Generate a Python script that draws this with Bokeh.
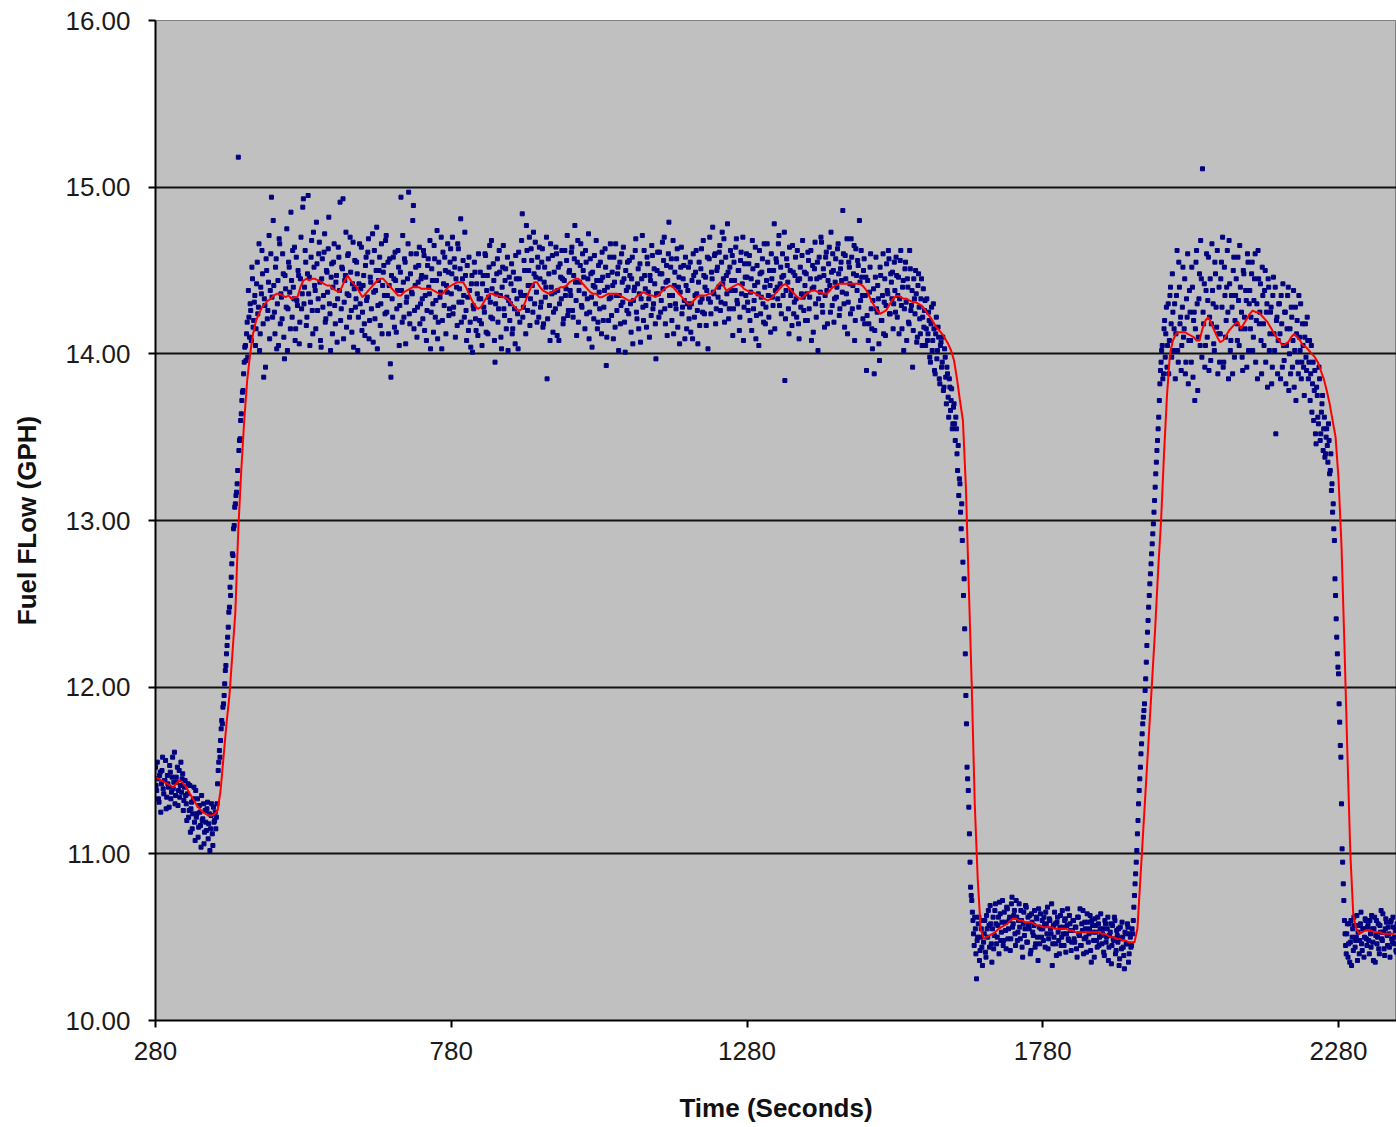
from bokeh.plotting import figure
from bokeh.models import FixedTicker, NumeralTickFormatter, Range1d
from bokeh.embed import file_html
from bokeh.resources import INLINE

# ---- data -------------------------------------------------------------
# Fuel-flow samples (GPH) at even seconds, starting at t = 280 s
even_start = 280
flow_even = [
    11.52, 11.38, 11.45, 11.31, 11.49, 11.42, 11.58, 11.36, 11.44, 11.27, 11.47, 11.40, 11.53, 11.33, 11.46, 11.39, 11.61, 11.35, 11.43, 11.29, 11.50, 11.41, 11.37, 11.48, 11.32,
    11.44, 11.30, 11.36, 11.22, 11.41, 11.27, 11.15, 11.33, 11.19, 11.38, 11.24, 11.10, 11.29, 11.17, 11.35, 11.21, 11.06, 11.26, 11.14, 11.31, 11.18, 11.02, 11.23, 11.12, 11.28,
    11.20, 11.15, 11.30, 11.50, 11.62, 11.68, 11.80, 11.88, 11.95, 12.10, 12.20, 12.30, 12.45, 12.60, 12.66, 12.80, 12.95, 13.08, 13.15, 13.22, 15.18, 13.48, 13.60, 13.72, 13.78,
    13.95, 14.05, 14.12, 13.98, 14.22, 14.30, 14.08, 14.45, 14.20, 14.35, 14.15, 14.55, 14.28, 14.02, 14.40, 14.62, 14.18, 14.33, 13.92, 14.50, 14.26, 14.71, 14.38, 14.94, 14.22,
    14.41, 14.12, 14.57, 14.30, 14.05, 14.66, 14.36, 14.21, 14.48, 13.97, 14.39, 14.75, 14.27, 14.52, 14.15, 14.44, 14.62, 14.33, 14.08, 14.58, 14.29, 14.47, 14.19, 14.70, 14.36,
    14.93, 14.40, 14.55, 14.22, 14.95, 14.46, 14.31, 14.68, 14.12, 14.52, 14.38, 14.79, 14.26, 14.60, 14.43, 14.04, 14.57, 14.35, 14.72, 14.21, 14.49, 14.63, 14.30, 14.02, 14.54,
    14.40, 14.66, 14.18, 14.47, 14.33, 14.58, 14.91, 14.27, 14.51, 14.09, 14.44, 14.73, 14.36, 14.60, 14.22, 14.49, 14.13, 14.67, 14.39, 14.28, 14.55, 14.02, 14.42, 14.30, 14.64,
    14.25, 14.47, 14.11, 14.58, 14.34, 14.69, 14.20, 14.43, 14.55, 14.07, 14.62, 14.38, 14.76, 14.29, 14.50, 14.17, 14.66, 14.41, 14.53, 14.24, 14.71, 14.35, 14.12, 14.57, 13.86,
    14.33, 14.58, 14.16, 14.44, 14.27, 14.62, 14.05, 14.49, 14.38, 14.71, 14.22, 14.55, 14.31, 14.45, 14.97, 14.18, 14.60, 14.36, 14.89, 14.26, 14.52, 14.10, 14.43, 14.64, 14.30,
    14.47, 14.21, 14.59, 14.35, 14.08, 14.53, 14.40, 14.68, 14.25, 14.44, 14.13, 14.57, 14.32, 14.74, 14.19, 14.48, 14.37, 14.03, 14.61, 14.29, 14.50, 14.41, 14.66, 14.23, 14.55,
    14.36, 14.70, 14.28, 14.52, 14.45, 14.17, 14.63, 14.39, 14.81, 14.31, 14.56, 14.22, 14.47, 14.08, 14.34, 14.58, 14.19, 14.42, 14.01, 14.27, 14.49, 14.14, 14.36, 14.60, 14.20,
    14.33, 14.05, 14.47, 14.25, 14.59, 14.38, 14.12, 14.52, 14.31, 14.68, 14.21, 14.44, 13.95, 14.36, 14.57, 14.27, 14.49, 14.10, 14.40, 14.65, 14.23, 14.51, 14.34, 14.02, 14.46,
    14.30, 14.54, 14.15, 14.38, 14.06, 14.45, 14.24, 14.61, 14.19, 14.35, 14.84, 14.28, 14.50, 14.12, 14.62, 14.41, 14.70, 14.33, 14.56, 14.25, 14.48, 14.67, 14.37, 14.58, 14.22,
    14.45, 14.31, 14.63, 14.18, 14.52, 14.40, 13.85, 14.57, 14.29, 14.66, 14.36, 14.13, 14.49, 14.27, 14.60, 14.38, 14.08, 14.54, 14.33, 14.45, 14.21, 14.62, 14.39, 14.71, 14.26,
    14.50, 14.35, 14.64, 14.22, 14.57, 14.43, 14.11, 14.68, 14.38, 14.53, 14.29, 14.60, 14.46, 14.15, 14.55, 14.33, 14.72, 14.25, 14.48, 14.04, 14.41, 14.59, 14.30, 14.44, 14.19,
    14.37, 14.55, 14.12, 14.46, 14.28, 14.63, 13.93, 14.40, 14.20, 14.58, 14.34, 14.49, 14.09, 14.43, 14.66, 14.26, 14.52, 14.35, 14.18, 14.60, 14.31, 14.45, 14.01, 14.38, 14.55,
    14.24, 14.47, 14.13, 14.58, 14.32, 14.40, 14.69, 14.21, 14.51, 14.36, 14.07, 14.45, 14.28, 14.62, 14.39, 14.16, 14.54, 14.33, 14.47, 14.23, 14.59, 14.30, 14.42, 13.97, 14.50,
    14.36, 14.61, 14.25, 14.48, 14.39, 14.70, 14.18, 14.53, 14.44, 14.79, 14.29, 14.57, 14.35, 14.12, 14.49, 14.27, 14.63, 14.40, 14.06, 14.52, 14.24, 14.45, 14.32, 14.58, 14.15,
    14.38, 14.21, 14.55, 14.30, 14.09, 14.47, 14.35, 14.62, 14.26, 14.43, 14.17, 14.51, 14.33, 14.68, 14.24, 14.46, 14.38, 14.03, 14.57, 14.31, 14.49, 14.76, 14.36, 14.60, 14.27,
    14.52, 14.40, 14.65, 14.31, 14.73, 14.45, 14.19, 14.58, 14.36, 14.49, 14.27, 14.62, 14.44, 14.11, 14.55, 14.38, 14.69, 14.30, 14.50, 14.22, 14.61, 14.42, 14.08, 14.54, 14.35,
    14.46, 14.26, 14.59, 14.37, 14.14, 14.51, 14.32, 14.64, 14.23, 14.43, 14.05, 14.48, 14.34, 14.57, 14.19, 14.40, 14.28, 14.66, 14.35, 14.50, 14.13, 14.45, 14.29, 14.78, 14.38,
    14.55, 14.33, 14.71, 14.42, 14.24, 14.60, 14.47, 13.84, 14.38, 14.53, 14.27, 14.64, 14.35, 14.17, 14.49, 14.31, 14.58, 14.22, 14.44, 14.09, 14.52, 14.36, 14.68, 14.26, 14.41,
    14.48, 14.20, 14.56, 14.34, 14.62, 14.39, 14.13, 14.51, 14.30, 14.45, 14.02, 14.58, 14.37, 14.67, 14.25, 14.47, 14.35, 14.61, 14.18, 14.54, 14.41, 14.73, 14.29, 14.50, 14.33,
    14.57, 14.40, 14.66, 14.23, 14.51, 14.44, 14.86, 14.30, 14.59, 14.36, 14.12, 14.55, 14.42, 14.69, 14.27, 14.48, 14.08, 14.63, 14.38, 14.53, 14.80, 14.32, 14.46, 14.21, 14.57,
    14.35, 13.90, 14.44, 14.18, 14.52, 14.27, 14.03, 14.39, 14.14, 14.58, 14.25, 14.33, 13.96, 14.47, 14.20, 14.60, 14.31, 14.11, 14.54, 14.36, 14.57, 14.24, 14.43, 14.49, 14.30,
    14.38, 14.58, 14.22, 14.46, 14.33, 14.62, 14.15, 14.44, 14.27, 14.55, 14.08, 14.40, 14.18, 14.51, 14.29, 13.92, 14.45, 14.24, 14.36, 14.10, 14.48, 14.21, 14.33, 14.05, 14.39,
    14.26, 14.05, 14.33, 14.12, 14.20, 13.95, 14.28, 14.08, 14.15, 13.88, 14.22, 14.02, 14.10, 13.82, 14.07, 13.95, 13.78, 14.03, 13.86, 13.92, 13.74, 13.85, 13.66, 13.79, 13.58,
    13.70, 13.48, 13.55, 13.30, 13.15, 13.22, 12.95, 12.88, 12.55, 12.35, 11.95, 11.52, 11.38, 11.12, 10.80, 10.72, 10.60, 10.45, 10.55, 10.25, 10.50, 10.62, 10.42, 10.55, 10.33,
    10.47, 10.60, 10.38, 10.55, 10.66, 10.44, 10.58, 10.35, 10.62, 10.51, 10.70, 10.46, 10.57, 10.40, 10.64, 10.53, 10.72, 10.48, 10.59, 10.43, 10.67, 10.55, 10.62, 10.49, 10.74,
    10.58, 10.66, 10.45, 10.62, 10.53, 10.70, 10.49, 10.60, 10.38, 10.65, 10.55, 10.68, 10.47, 10.57, 10.63, 10.42, 10.59, 10.51, 10.66, 10.46, 10.61, 10.36, 10.56, 10.64, 10.50,
    10.55, 10.62, 10.44, 10.58, 10.68, 10.49, 10.60, 10.52, 10.33, 10.57, 10.65, 10.46, 10.59, 10.53, 10.40, 10.63, 10.50, 10.56, 10.45, 10.61, 10.52, 10.67, 10.48, 10.58, 10.42,
    10.54, 10.60, 10.47, 10.56, 10.38, 10.62, 10.51, 10.45, 10.58, 10.66, 10.49, 10.55, 10.41, 10.59, 10.52, 10.63, 10.35, 10.57, 10.48, 10.61, 10.53, 10.44, 10.58, 10.50, 10.64,
    10.46, 10.55, 10.39, 10.58, 10.50, 10.62, 10.44, 10.53, 10.34, 10.57, 10.48, 10.60, 10.42, 10.51, 10.55, 10.37, 10.49, 10.59, 10.44, 10.31, 10.52, 10.46, 10.56, 10.40, 10.50,
    10.45, 10.52, 10.68, 10.82, 10.95, 11.12, 11.30, 11.45, 11.60, 11.72, 11.82, 11.90, 12.05, 12.25, 12.40, 12.55, 12.68, 12.80, 12.92, 13.05, 13.20, 13.35, 13.48, 13.62, 13.82,
    13.95, 14.05, 13.88, 14.20, 14.12, 13.92, 14.30, 14.08, 14.40, 13.98, 14.25, 14.15, 13.85, 14.35, 14.02, 14.55, 14.18, 13.90, 14.28, 14.10, 14.45, 13.95, 14.22, 13.82, 14.38,
    14.08, 14.52, 13.86, 14.25, 14.15, 14.62, 13.78, 14.33, 14.05, 14.45, 15.11, 14.18, 13.92, 14.38, 14.10, 14.58, 14.22, 13.96, 14.66, 14.30, 14.02, 14.48, 14.16, 13.88, 14.40,
    14.12, 14.55, 14.70, 13.95, 14.35, 14.20, 14.62, 13.85, 14.42, 14.08, 14.28, 14.50, 13.98, 14.35, 14.18, 14.58, 14.05, 14.40, 14.25, 13.90, 14.48, 14.15, 14.32, 14.60, 14.02,
    14.38, 14.22, 14.55, 14.10, 14.45, 13.95, 14.30, 14.62, 14.18, 14.42, 13.88, 14.35, 14.05, 14.50, 14.25, 13.80, 14.40, 14.12, 14.28, 13.92, 14.46, 14.02, 13.52, 14.22, 14.08,
    14.30, 13.85, 14.18, 14.42, 13.96, 14.25, 14.05, 14.35, 13.78, 14.15, 14.28, 13.92, 14.38, 14.02, 13.72, 14.20, 13.88, 14.10, 14.30, 13.95, 14.05, 13.75, 14.18, 13.90, 14.08,
    13.95, 13.72, 14.05, 13.82, 13.60, 13.90, 13.46, 13.75, 13.58, 13.85, 13.52, 13.70, 13.42, 13.62, 13.40, 13.55, 13.35, 13.48, 13.30, 13.18, 13.05, 12.95, 12.65, 12.41, 12.20,
    12.08, 11.79, 11.58, 11.03, 10.82, 10.60, 10.45, 10.52, 10.38, 10.58, 10.47, 10.33, 10.55, 10.62, 10.44, 10.50, 10.36, 10.57, 10.48, 10.65, 10.42, 10.55, 10.50, 10.60, 10.45,
    10.58, 10.40, 10.52, 10.63, 10.47, 10.55, 10.35, 10.60, 10.50, 10.43, 10.57, 10.66, 10.48, 10.53, 10.39, 10.61, 10.51, 10.56, 10.44, 10.59, 10.49, 10.62, 10.46, 10.54, 10.41,
]

# Fuel-flow samples (GPH) at odd seconds, starting at t = 281 s
odd_start = 281
flow_odd = [
    11.41, 11.55, 11.33, 11.47, 11.25, 11.50, 11.39, 11.44, 11.56, 11.34, 11.42, 11.28, 11.49, 11.37, 11.58, 11.43, 11.30, 11.46, 11.52, 11.38, 11.34, 11.55, 11.45, 11.26, 11.40,
    11.35, 11.20, 11.42, 11.26, 11.13, 11.31, 11.24, 11.40, 11.08, 11.22, 11.33, 11.16, 11.25, 11.04, 11.20, 11.30, 11.13, 11.19, 11.27, 11.09, 11.24, 11.15, 11.30, 11.05, 11.19,
    11.25, 11.22, 11.42, 11.55, 11.58, 11.75, 11.78, 11.90, 12.02, 12.13, 12.25, 12.36, 12.48, 12.55, 12.74, 12.79, 12.97, 13.10, 13.17, 13.30, 13.42, 13.49, 13.64, 13.77, 13.88,
    14.04, 13.96, 14.19, 14.38, 14.10, 14.26, 14.52, 14.16, 14.31, 14.05, 14.42, 14.24, 14.66, 14.12, 14.36, 14.48, 13.86, 14.29, 14.57, 14.21, 14.43, 14.09, 14.60, 14.34, 14.80,
    14.25, 14.52, 14.03, 14.44, 14.69, 14.18, 14.34, 14.60, 14.10, 14.47, 14.28, 14.02, 14.55, 14.37, 14.85, 14.22, 14.40, 14.64, 14.15, 14.32, 14.50, 14.06, 14.45, 14.27, 14.88,
    14.30, 14.62, 14.17, 14.48, 14.36, 14.05, 14.58, 14.26, 14.73, 14.41, 14.15, 14.54, 14.33, 14.67, 14.08, 14.45, 14.28, 14.61, 14.19, 14.50, 14.37, 14.82, 14.24, 14.46, 14.12,
    14.55, 14.29, 14.43, 14.07, 14.64, 14.38, 14.20, 14.52, 14.93, 14.31, 14.47, 14.16, 14.59, 14.35, 14.70, 14.26, 14.42, 14.04, 14.56, 14.33, 14.48, 14.22, 14.66, 14.39, 14.14,
    14.41, 14.18, 14.53, 14.32, 14.61, 14.09, 14.46, 14.27, 14.72, 14.37, 14.21, 14.50, 14.03, 14.44, 14.58, 14.30, 14.12, 14.49, 14.35, 14.68, 14.25, 14.55, 14.41, 13.94, 14.47,
    14.22, 14.45, 14.61, 14.13, 14.38, 14.52, 14.29, 14.94, 14.19, 14.43, 14.57, 14.06, 14.34, 14.66, 14.24, 14.48, 14.37, 14.80, 14.15, 14.41, 14.60, 14.28, 14.53, 14.18, 14.45,
    14.33, 14.62, 14.14, 14.46, 14.26, 14.57, 14.36, 14.03, 14.51, 14.30, 14.65, 14.22, 14.44, 14.09, 14.55, 14.34, 14.70, 14.20, 14.42, 14.58, 14.12, 14.37, 14.49, 14.27, 14.63,
    14.48, 14.24, 14.57, 14.10, 14.40, 14.66, 14.31, 14.51, 14.19, 14.45, 14.35, 14.73, 14.26, 14.53, 14.14, 14.38, 14.04, 14.47, 14.29, 14.55, 14.21, 14.42, 14.11, 14.33, 14.49,
    14.18, 14.42, 14.28, 14.60, 14.13, 14.47, 14.34, 14.65, 14.22, 14.39, 14.54, 14.08, 14.30, 14.48, 14.19, 14.62, 14.35, 14.03, 14.52, 14.27, 14.44, 14.15, 14.58, 14.32, 14.20,
    14.42, 14.12, 14.49, 14.27, 14.59, 14.33, 14.03, 14.45, 14.37, 14.68, 14.22, 14.56, 14.35, 14.77, 14.26, 14.50, 14.17, 14.63, 14.41, 14.73, 14.30, 14.46, 14.19, 14.52, 14.64,
    14.28, 14.55, 14.16, 14.43, 14.34, 14.70, 14.21, 14.48, 14.08, 14.40, 14.59, 14.25, 14.37, 14.64, 14.11, 14.52, 14.30, 14.46, 14.62, 14.18, 14.44, 14.35, 14.56, 14.23, 14.49,
    14.38, 14.61, 14.26, 14.47, 14.77, 14.32, 14.55, 14.19, 14.43, 14.66, 14.28, 14.50, 14.36, 14.62, 14.24, 14.45, 14.09, 14.57, 14.34, 14.49, 14.21, 14.40, 14.68, 14.15, 14.53,
    14.27, 14.44, 14.61, 14.20, 14.38, 14.52, 14.10, 14.47, 14.33, 14.66, 14.23, 14.41, 14.58, 14.16, 14.35, 14.48, 14.02, 14.55, 14.29, 14.43, 14.64, 14.19, 14.50, 14.26, 14.40,
    14.56, 14.30, 14.45, 14.06, 14.38, 14.62, 14.25, 14.42, 14.15, 14.54, 14.33, 14.71, 14.20, 14.47, 14.29, 14.58, 14.37, 14.10, 14.44, 14.65, 14.27, 14.51, 14.18, 14.36, 14.61,
    14.22, 14.48, 14.32, 14.67, 14.56, 14.27, 14.43, 14.11, 14.60, 14.35, 14.52, 14.20, 14.68, 14.41, 14.30, 14.57, 14.16, 14.46, 14.37, 14.64, 14.28, 14.53, 14.09, 14.41, 14.30,
    14.52, 14.28, 14.13, 14.44, 14.60, 14.22, 14.49, 14.36, 14.06, 14.55, 14.31, 14.63, 14.25, 14.47, 14.40, 14.17, 14.58, 14.33, 14.70, 14.24, 14.45, 14.37, 14.59, 14.18, 14.50,
    14.34, 14.61, 14.26, 14.55, 14.42, 14.69, 14.30, 14.47, 14.78, 14.21, 14.52, 14.38, 14.59, 14.27, 14.44, 14.64, 14.32, 14.50, 14.14, 14.56, 14.36, 14.70, 14.28, 14.46, 14.60,
    14.31, 14.54, 14.20, 14.45, 14.68, 14.27, 14.41, 14.09, 14.53, 14.36, 14.62, 14.24, 14.49, 14.30, 14.66, 14.18, 14.44, 14.55, 14.22, 14.41, 14.60, 14.34, 14.50, 14.15, 14.57,
    14.40, 14.66, 14.29, 14.52, 14.46, 14.35, 14.73, 14.21, 14.57, 14.43, 14.12, 14.50, 14.38, 14.65, 14.24, 14.47, 14.33, 14.62, 14.18, 14.45, 14.28, 14.59, 14.34, 14.49, 14.20,
    14.36, 14.61, 14.27, 14.45, 14.08, 14.53, 14.40, 14.67, 14.22, 14.55, 14.33, 14.46, 14.70, 14.29, 14.51, 14.16, 14.58, 14.38, 14.44, 14.64, 14.25, 14.49, 14.60, 14.19, 14.43,
    14.34, 14.63, 14.48, 14.27, 14.55, 14.37, 14.60, 14.16, 14.45, 14.69, 14.31, 14.52, 14.24, 14.58, 14.41, 14.65, 14.20, 14.47, 14.56, 14.28, 14.43, 14.62, 14.35, 14.50, 14.18,
    14.46, 14.23, 14.08, 14.37, 14.60, 14.15, 14.32, 13.88, 14.46, 14.27, 14.41, 14.06, 14.52, 14.20, 14.35, 14.12, 14.45, 14.29, 14.38, 14.62, 14.24, 14.48, 14.33, 14.15, 14.55,
    14.25, 14.47, 14.35, 14.12, 14.56, 14.29, 14.40, 14.02, 14.51, 14.31, 14.45, 14.19, 14.62, 14.26, 14.38, 14.14, 14.33, 14.50, 14.07, 14.41, 14.28, 14.12, 14.45, 14.22, 14.16,
    14.32, 14.15, 14.08, 14.25, 13.98, 14.18, 14.02, 14.30, 13.90, 14.12, 13.97, 14.16, 13.85, 14.05, 13.92, 14.10, 13.80, 13.98, 13.70, 13.88, 13.62, 13.80, 13.72, 13.55, 13.68,
    13.58, 13.62, 13.40, 13.45, 13.25, 13.05, 13.10, 12.75, 12.65, 12.20, 11.78, 11.45, 11.28, 10.95, 10.75, 10.65, 10.52, 10.62, 10.40, 10.48, 10.58, 10.36, 10.50, 10.44, 10.60,
    10.52, 10.41, 10.63, 10.50, 10.57, 10.69, 10.46, 10.55, 10.43, 10.66, 10.58, 10.50, 10.62, 10.71, 10.48, 10.59, 10.45, 10.65, 10.54, 10.68, 10.49, 10.60, 10.42, 10.70, 10.56,
    10.63, 10.52, 10.72, 10.48, 10.60, 10.56, 10.66, 10.44, 10.58, 10.51, 10.69, 10.47, 10.62, 10.55, 10.40, 10.64, 10.53, 10.57, 10.44, 10.62, 10.50, 10.67, 10.46, 10.55, 10.60,
    10.48, 10.57, 10.65, 10.52, 10.43, 10.61, 10.55, 10.70, 10.46, 10.50, 10.58, 10.39, 10.62, 10.48, 10.56, 10.45, 10.66, 10.52, 10.60, 10.41, 10.57, 10.49, 10.63, 10.54, 10.47,
    10.60, 10.49, 10.56, 10.43, 10.62, 10.52, 10.67, 10.45, 10.54, 10.40, 10.59, 10.50, 10.64, 10.47, 10.55, 10.42, 10.60, 10.53, 10.38, 10.57, 10.48, 10.62, 10.45, 10.55, 10.51,
    10.52, 10.41, 10.60, 10.47, 10.55, 10.36, 10.51, 10.58, 10.45, 10.49, 10.62, 10.40, 10.54, 10.47, 10.33, 10.56, 10.43, 10.50, 10.39, 10.53, 10.46, 10.58, 10.35, 10.52, 10.44,
    10.55, 10.60, 10.75, 10.88, 11.02, 11.20, 11.38, 11.52, 11.66, 11.78, 11.86, 11.98, 12.15, 12.33, 12.48, 12.62, 12.74, 12.86, 12.98, 13.12, 13.28, 13.42, 13.55, 13.72, 13.90,
    14.02, 13.85, 14.15, 13.98, 14.28, 14.05, 13.88, 14.35, 14.18, 14.48, 14.02, 14.30, 14.12, 14.62, 13.95, 14.40, 14.22, 14.05, 14.52, 14.15, 13.88, 14.33, 14.60, 14.08, 14.25,
    13.95, 14.40, 14.20, 13.72, 14.55, 14.30, 14.10, 14.48, 14.68, 13.98, 14.25, 14.42, 14.05, 14.60, 14.32, 13.90, 14.45, 14.18, 14.38, 14.06, 14.55, 14.28, 14.62, 14.12, 13.95,
    14.45, 14.28, 13.92, 14.52, 14.10, 14.40, 14.25, 14.68, 14.02, 14.35, 13.88, 14.58, 14.20, 14.45, 14.08, 14.32, 14.65, 14.15, 13.98, 14.50, 14.22, 14.38, 13.92, 14.55, 14.30,
    14.15, 14.48, 14.02, 14.32, 14.60, 14.20, 13.85, 14.45, 14.25, 14.08, 14.52, 14.18, 14.38, 13.95, 14.30, 14.45, 14.02, 14.25, 13.82, 14.35, 14.12, 14.40, 14.20, 13.88, 14.30,
    14.12, 14.35, 13.92, 14.05, 14.25, 13.82, 14.15, 14.40, 14.00, 13.88, 14.22, 14.08, 13.80, 14.28, 14.12, 13.95, 14.35, 14.02, 13.85, 14.18, 13.92, 14.10, 13.98, 14.22, 13.85,
    14.08, 13.88, 13.65, 13.95, 13.78, 13.52, 13.80, 13.62, 13.92, 13.48, 13.65, 13.75, 13.55, 13.38, 13.50, 13.45, 13.58, 13.28, 13.40, 13.22, 13.10, 12.88, 12.55, 12.30, 12.12,
    11.90, 11.65, 11.30, 10.95, 10.72, 10.52, 10.40, 10.58, 10.46, 10.35, 10.60, 10.50, 10.42, 10.57, 10.48, 10.63, 10.53, 10.40, 10.58, 10.46, 10.55, 10.38, 10.61, 10.49, 10.56,
    10.48, 10.60, 10.44, 10.55, 10.36, 10.62, 10.51, 10.46, 10.58, 10.40, 10.53, 10.49, 10.64, 10.43, 10.55, 10.59, 10.45, 10.52, 10.38, 10.60, 10.47, 10.56, 10.50, 10.42, 10.58,
]

# Moving-average trend line (GPH), one value every 5 s starting at t = 280 s
avg_start = 280
avg_step = 5
avg = [
    11.46, 11.45, 11.44, 11.43, 11.42, 11.41, 11.40, 11.42, 11.44, 11.43,
    11.41, 11.38, 11.35, 11.32, 11.29, 11.27, 11.25, 11.24, 11.23, 11.23,
    11.24, 11.26, 11.38, 11.58, 11.78, 11.95, 12.20, 12.45, 12.95, 13.30,
    13.60, 13.84, 14.00, 14.12, 14.20, 14.24, 14.28, 14.30, 14.32, 14.33,
    14.35, 14.36, 14.36, 14.35, 14.34, 14.35, 14.33, 14.34, 14.34, 14.40,
    14.44, 14.45, 14.44, 14.45, 14.45, 14.44, 14.43, 14.42, 14.41, 14.41,
    14.39, 14.38, 14.37, 14.40, 14.44, 14.47, 14.44, 14.42, 14.40, 14.37,
    14.34, 14.36, 14.38, 14.40, 14.42, 14.44, 14.45, 14.45, 14.43, 14.41,
    14.39, 14.37, 14.35, 14.35, 14.37, 14.38, 14.39, 14.40, 14.40, 14.40,
    14.39, 14.39, 14.39, 14.39, 14.38, 14.37, 14.36, 14.36, 14.38, 14.40,
    14.41, 14.42, 14.43, 14.43, 14.43, 14.40, 14.36, 14.32, 14.29, 14.27,
    14.28, 14.31, 14.34, 14.36, 14.36, 14.35, 14.35, 14.34, 14.34, 14.33,
    14.31, 14.29, 14.27, 14.26, 14.27, 14.31, 14.36, 14.40, 14.43, 14.43,
    14.40, 14.38, 14.37, 14.36, 14.37, 14.38, 14.39, 14.40, 14.40, 14.41,
    14.43, 14.44, 14.45, 14.45, 14.43, 14.41, 14.39, 14.37, 14.36, 14.36,
    14.34, 14.34, 14.35, 14.36, 14.36, 14.36, 14.36, 14.35, 14.34, 14.33,
    14.32, 14.32, 14.33, 14.35, 14.36, 14.37, 14.36, 14.35, 14.35, 14.34,
    14.35, 14.37, 14.39, 14.40, 14.41, 14.40, 14.38, 14.36, 14.34, 14.32,
    14.30, 14.30, 14.32, 14.34, 14.35, 14.35, 14.35, 14.36, 14.36, 14.38,
    14.41, 14.43, 14.41, 14.38, 14.39, 14.40, 14.41, 14.42, 14.41, 14.39,
    14.38, 14.37, 14.37, 14.36, 14.35, 14.34, 14.33, 14.32, 14.33, 14.35,
    14.37, 14.39, 14.41, 14.42, 14.40, 14.38, 14.36, 14.34, 14.33, 14.34,
    14.36, 14.37, 14.38, 14.38, 14.37, 14.37, 14.36, 14.36, 14.38, 14.40,
    14.41, 14.42, 14.42, 14.42, 14.42, 14.42, 14.42, 14.42, 14.42, 14.41,
    14.39, 14.36, 14.32, 14.29, 14.26, 14.24, 14.25, 14.26, 14.29, 14.32,
    14.34, 14.35, 14.34, 14.33, 14.33, 14.32, 14.31, 14.31, 14.30, 14.29,
    14.27, 14.24, 14.22, 14.19, 14.16, 14.14, 14.12, 14.09, 14.06, 14.02,
    13.96, 13.85, 13.72, 13.60, 13.20, 12.60, 12.00, 11.30, 10.85, 10.55,
    10.49, 10.50, 10.51, 10.52, 10.53, 10.55, 10.56, 10.57, 10.58, 10.60,
    10.61, 10.61, 10.60, 10.60, 10.59, 10.59, 10.59, 10.58, 10.57, 10.57,
    10.56, 10.56, 10.56, 10.56, 10.55, 10.55, 10.55, 10.55, 10.55, 10.54,
    10.54, 10.53, 10.53, 10.53, 10.53, 10.53, 10.53, 10.53, 10.53, 10.53,
    10.52, 10.52, 10.51, 10.50, 10.50, 10.49, 10.49, 10.48, 10.48, 10.47,
    10.47, 10.47, 10.55, 10.85, 11.15, 11.45, 11.75, 12.05, 12.35, 12.70,
    13.00, 13.40, 13.75, 14.00, 14.08, 14.12, 14.13, 14.13, 14.13, 14.12,
    14.11, 14.10, 14.08, 14.08, 14.15, 14.20, 14.22, 14.18, 14.14, 14.10,
    14.07, 14.08, 14.11, 14.14, 14.16, 14.18, 14.19, 14.15, 14.18, 14.21,
    14.24, 14.26, 14.25, 14.25, 14.23, 14.21, 14.19, 14.16, 14.13, 14.10,
    14.08, 14.05, 14.06, 14.07, 14.10, 14.12, 14.10, 14.08, 14.05, 14.04,
    14.02, 14.00, 13.98, 13.95, 13.90, 13.85, 13.78, 13.70, 13.60, 13.50,
    13.25, 12.85, 12.25, 11.60, 11.00, 10.63, 10.55, 10.52, 10.53, 10.54,
    10.54, 10.54, 10.53, 10.53, 10.53, 10.52, 10.52, 10.52, 10.52, 10.52,
]

x_ticks = [280, 780, 1280, 1780, 2280]
y_ticks = [10, 11, 12, 13, 14, 15, 16]
x_title = "Time (Seconds)"
y_title = "Fuel FLow (GPH)"

flow_t = ([even_start + 2 * i for i in range(len(flow_even))]
          + [odd_start + 2 * i for i in range(len(flow_odd))])
flow = flow_even + flow_odd
avg_t = [avg_start + avg_step * i for i in range(len(avg))]

# ---- figure -----------------------------------------------------------
FONT = "Liberation Sans"
p = figure(width=1396, height=1127,
           x_range=Range1d(280, 2378), y_range=Range1d(10, 16),
           output_backend="svg", toolbar_location=None,
           min_border_left=155, min_border_right=0,
           min_border_top=20, min_border_bottom=107)

p.background_fill_color = "#C0C0C0"
p.border_fill_color = "white"
p.outline_line_color = "#808080"
p.outline_line_width = 1

p.xgrid.grid_line_color = None
p.ygrid.grid_line_color = "#111111"
p.ygrid.grid_line_width = 2

for ax in (p.xaxis, p.yaxis):
    ax.axis_line_color = "black"
    ax.axis_line_width = 2
    ax.major_tick_line_color = "black"
    ax.major_tick_line_width = 2
    ax.major_tick_in = 0
    ax.major_tick_out = 7
    ax.minor_tick_line_color = None
    ax.major_label_text_font = FONT
    ax.major_label_text_font_size = "26px"
    ax.major_label_text_color = "#1a1a1a"
    ax.axis_label_text_font = FONT
    ax.axis_label_text_font_size = "26px"
    ax.axis_label_text_font_style = "bold"
    ax.axis_label_text_color = "#111111"

p.xaxis.ticker = FixedTicker(ticks=x_ticks)
p.xaxis.formatter = NumeralTickFormatter(format="0")
p.xaxis.major_label_standoff = 14
p.xaxis.axis_label = x_title
p.xaxis.axis_label_standoff = 30

p.yaxis.ticker = FixedTicker(ticks=y_ticks)
p.yaxis.formatter = NumeralTickFormatter(format="0.00")
p.yaxis.major_label_standoff = 18
p.yaxis.axis_label = y_title
p.yaxis.axis_label_standoff = 20

p.scatter(flow_t, flow, marker="square", size=4,
          fill_color="#000080", line_color="#000080")
p.line(avg_t, avg, line_color="#FF0000", line_width=2)

open("out.html", "w").write(file_html(p, INLINE))
